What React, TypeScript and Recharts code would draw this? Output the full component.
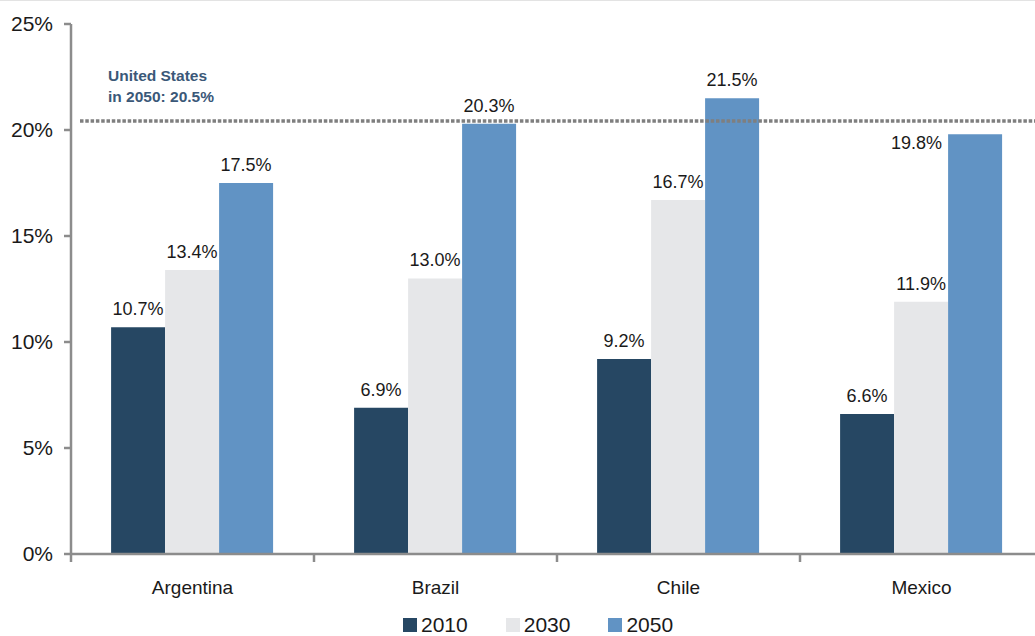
import React from 'react';
import { BarChart, Bar, XAxis, YAxis, ReferenceLine, LabelList, Legend } from 'recharts';

const countries = ['Argentina', 'Brazil', 'Chile', 'Mexico'];
const share2010 = [10.7, 6.9, 9.2, 6.6];
const share2030 = [13.4, 13.0, 16.7, 11.9];
const share2050 = [17.5, 20.3, 21.5, 19.8];
const yTicks = [0, 5, 10, 15, 20, 25];
const usShare2050 = 20.5;
const usLabel = ['United States', 'in 2050: 20.5%'];

const series = [
    { key: 'y2010', name: '2010', color: '#264763' },
    { key: 'y2030', name: '2030', color: '#e6e7e9' },
    { key: 'y2050', name: '2050', color: '#6193c4' },
];

const data = countries.map((c, i) => ({
    country: c,
    y2010: share2010[i],
    y2030: share2030[i],
    y2050: share2050[i],
}));

const FONT = '"Liberation Sans", Arial, sans-serif';
const AXIS = '#8c8c8c';

function CountryTick(props: any) {
    const { x, y, payload } = props;
    const left = x - (payload.offset ?? 0);
    return (
        <g>
            <line x1={left} x2={left} y1={y} y2={y + 8} stroke={AXIS} strokeWidth={2.5} />
            <text x={x} y={y + 40} textAnchor="middle" fontSize={19} fill="#1a1a1a" fontFamily={FONT}>
                {payload.value}
            </text>
        </g>
    );
}

function makeLabel(seriesKey: string) {
    return (props: any) => {
        const { x, y, width, value, index } = props;
        const text = `${Number(value).toFixed(1)}%`;
        // Mexico 2050 sits under the US line, so its label goes beside the bar
        if (seriesKey === 'y2050' && countries[index] === 'Mexico') {
            return (
                <text x={x - 6} y={y + 15} textAnchor="end" fontSize={18} fill="#1a1a1a" fontFamily={FONT}>
                    {text}
                </text>
            );
        }
        return (
            <text x={x + width / 2} y={y - 12} textAnchor="middle" fontSize={18} fill="#1a1a1a" fontFamily={FONT}>
                {text}
            </text>
        );
    };
}

function UsLine(props: any) {
    const { x1, y1, x2, y2 } = props;
    return (
        <line x1={x1 + 9} y1={y1 + 1.5} x2={x2} y2={y2 + 1.5} stroke="#7f7f7f" strokeWidth={3.5} strokeDasharray="3.5 1.8" />
    );
}

function UsLabel(props: any) {
    const { viewBox } = props;
    const x = viewBox.x + 37;
    const y = viewBox.y;
    return (
        <text fontSize={15.5} fontWeight="bold" fill="#3b5878" fontFamily={FONT}>
            <tspan x={x} y={y - 38}>{usLabel[0]}</tspan>
            <tspan x={x} y={y - 17}>{usLabel[1]}</tspan>
        </text>
    );
}

function LegendRow({ payload }: any) {
    return (
        <div style={{ display: 'flex', gap: 38, fontFamily: FONT, fontSize: 21, lineHeight: '20px', color: '#1a1a1a' }}>
            {payload?.map((entry: any, i: number) => (
                <div key={i} style={{ display: 'flex', alignItems: 'center', gap: 4 }}>
                    <div style={{ width: 14, height: 14, backgroundColor: entry.color }} />
                    <span>{entry.value}</span>
                </div>
            ))}
        </div>
    );
}

export default function App() {
    return (
        <div style={{ position: 'fixed', left: 0, top: 0, width: 1035, height: 636, overflow: 'hidden', background: '#fff', borderTop: '1px solid #e3e3e3', boxSizing: 'border-box' }}>
            <BarChart
                width={1045}
                height={635}
                data={data}
                margin={{ top: 23, right: 2, left: 0, bottom: 4 }}
                barCategoryGap="16.5%"
                barGap={0}
            >
                <YAxis
                    width={71}
                    domain={[0, 25]}
                    ticks={yTicks}
                    tickFormatter={(v) => `${v}%`}
                    axisLine={{ stroke: AXIS, strokeWidth: 2.5 }}
                    tickLine={{ stroke: AXIS, strokeWidth: 2.5 }}
                    tickSize={7}
                    tickMargin={11}
                    tick={{ fontSize: 21, fill: '#1a1a1a', fontFamily: FONT }}
                />
                <XAxis
                    dataKey="country"
                    height={58}
                    axisLine={{ stroke: AXIS, strokeWidth: 2.5 }}
                    tickLine={false}
                    tickSize={0}
                    tickMargin={0}
                    tick={<CountryTick />}
                    interval={0}
                />
                <Legend
                    verticalAlign="bottom"
                    content={<LegendRow />}
                    wrapperStyle={{ position: 'absolute', left: 403, top: 614, width: 320, height: 20 }}
                />
                {series.map((s) => (
                    <Bar key={s.key} dataKey={s.key} name={s.name} fill={s.color} isAnimationActive={false}>
                        <LabelList dataKey={s.key} content={makeLabel(s.key)} />
                    </Bar>
                ))}
                <ReferenceLine y={usShare2050} shape={<UsLine />} label={<UsLabel />} />
            </BarChart>
        </div>
    );
}
